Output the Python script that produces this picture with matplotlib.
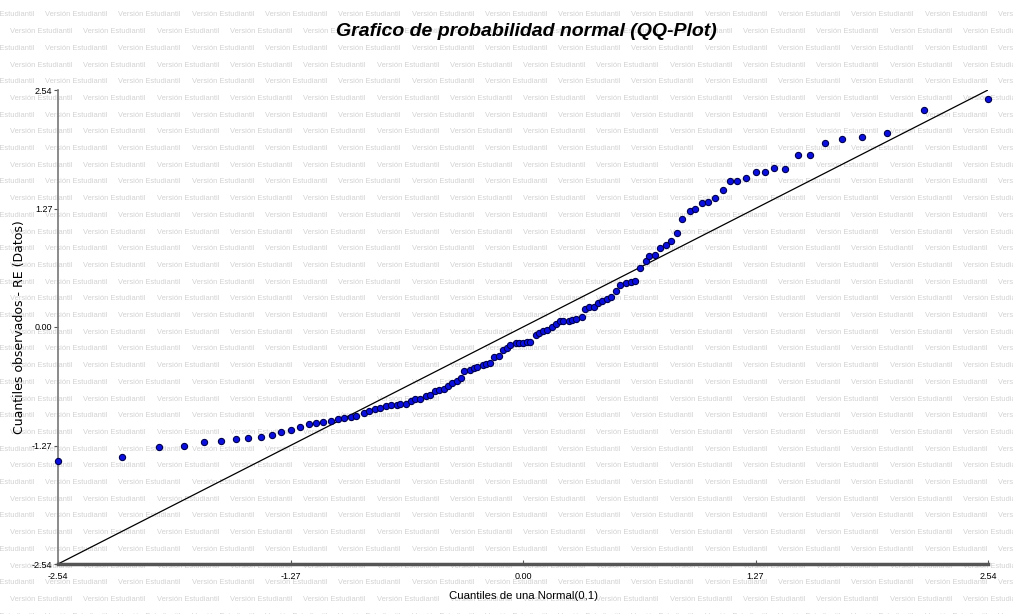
"""QQ-plot de los residuos (RE) contra cuantiles de una Normal(0,1)."""

import matplotlib
matplotlib.use("Agg")
import matplotlib.pyplot as plt

cuantiles_normal = [
    -2.54, -2.19, -1.99, -1.85, -1.74, -1.65, -1.57, -1.50, -1.43, -1.37,
    -1.32, -1.27, -1.22, -1.17, -1.13, -1.09, -1.05, -1.01, -0.98, -0.94,
    -0.91, -0.87, -0.84, -0.81, -0.78, -0.75, -0.72, -0.69, -0.67, -0.64,
    -0.61, -0.59, -0.56, -0.53, -0.51, -0.48, -0.46, -0.43, -0.41, -0.39,
    -0.36, -0.34, -0.32, -0.29, -0.27, -0.25, -0.22, -0.20, -0.18, -0.16,
    -0.13, -0.11, -0.09, -0.07, -0.04, -0.02, 0.00,
    0.02, 0.04, 0.07, 0.09, 0.11, 0.13, 0.16, 0.18, 0.20, 0.22,
    0.25, 0.27, 0.29, 0.32, 0.34, 0.36, 0.39, 0.41, 0.43, 0.46,
    0.48, 0.51, 0.53, 0.56, 0.59, 0.61, 0.64, 0.67, 0.69, 0.72,
    0.75, 0.78, 0.81, 0.84, 0.87, 0.91, 0.94, 0.98, 1.01, 1.05,
    1.09, 1.13, 1.17, 1.22, 1.27, 1.32, 1.37, 1.43, 1.50, 1.57,
    1.65, 1.74, 1.85, 1.99, 2.19, 2.54,
]

# cuantiles observados (RE ordenados)
cuantiles_obs = [
    -1.44, -1.39, -1.29, -1.28, -1.23, -1.22, -1.20, -1.19, -1.18, -1.16,
    -1.13, -1.10, -1.07, -1.04, -1.03, -1.02, -1.01, -0.99, -0.98, -0.96,
    -0.95, -0.92, -0.90, -0.88, -0.87, -0.85, -0.84, -0.835, -0.825, -0.82,
    -0.79, -0.775, -0.77, -0.74, -0.73, -0.685, -0.68, -0.66, -0.63, -0.60,
    -0.58, -0.55, -0.47, -0.46, -0.44, -0.43, -0.41, -0.40, -0.39, -0.325,
    -0.315, -0.25, -0.22, -0.19, -0.175, -0.175, -0.17,
    -0.165, -0.16, -0.09, -0.06, -0.04, -0.03, 0.00, 0.03, 0.06, 0.06,
    0.065, 0.08, 0.09, 0.105, 0.19, 0.21, 0.215, 0.26, 0.28, 0.30,
    0.32, 0.39, 0.45, 0.47, 0.48, 0.495, 0.63, 0.71, 0.76, 0.77,
    0.85, 0.88, 0.92, 1.01, 1.16, 1.24, 1.26, 1.33, 1.335, 1.38,
    1.47, 1.56, 1.57, 1.60, 1.66, 1.665, 1.70, 1.695, 1.84, 1.845,
    1.97, 2.01, 2.04, 2.08, 2.33, 2.44,
]

marcas = [-2.54, -1.27, 0.00, 1.27, 2.54]
etiquetas = ["-2.54", "-1.27", "0.00", "1.27", "2.54"]

TITULO = "Grafico de probabilidad normal (QQ-Plot)"
MARCA_AGUA = "Versión Estudiantil"
FUENTE = ["Liberation Sans", "DejaVu Sans"]


def marca_de_agua(fig, ancho=1013, alto=614):
    """Repite el texto de version estudiantil sobre toda la figura."""
    paso_x, paso_y = 73.3, 16.7
    fila = 0
    y = 15.0
    while y < alto + 10:
        x = -28.3 if fila % 2 == 0 else 10.0
        while x < ancho:
            # zorder negativo: queda detras de los ejes y los puntos
            fig.text(x / ancho, 1 - y / alto, MARCA_AGUA, fontsize=5.4,
                     family=FUENTE, color="#d2d2d2", ha="left", va="center",
                     zorder=-1)
            x += paso_x
        y += paso_y
        fila += 1


def main():
    fig = plt.figure(figsize=(10.13, 6.14), dpi=100)
    marca_de_agua(fig)

    ax = fig.add_axes([58 / 1013, 50 / 614, 930 / 1013, 474 / 614])
    ax.patch.set_visible(False)

    lim = (marcas[0], marcas[-1])
    ax.plot(lim, lim, color="black", lw=0.9, zorder=2)
    ax.scatter(cuantiles_normal, cuantiles_obs, s=20, color="#0a0fe0",
               edgecolors="#000050", linewidths=0.8, zorder=3, clip_on=False)

    ax.set_xlim(lim)
    ax.set_ylim(lim)
    ax.set_xticks(marcas)
    ax.set_xticklabels(etiquetas)
    ax.set_yticks(marcas)
    ax.set_yticklabels(etiquetas)

    for s in ("top", "right"):
        ax.spines[s].set_visible(False)
    ax.spines["left"].set_color("#777777")
    ax.spines["left"].set_linewidth(1.2)
    ax.spines["bottom"].set_color("#555555")
    ax.spines["bottom"].set_linewidth(2.5)

    ax.tick_params(axis="y", direction="out", length=3, width=0.8,
                   color="#555555", pad=1, labelsize=6.5)
    ax.tick_params(axis="x", direction="in", length=3, width=0.8,
                   color="#555555", pad=6, labelsize=6.5)
    for lab in ax.get_xticklabels() + ax.get_yticklabels():
        lab.set_family(FUENTE)

    ax.set_xlabel("Cuantiles de una Normal(0,1)", fontsize=8.2, family=FUENTE)
    ax.xaxis.set_label_coords(0.5, -27 / 474)
    ax.set_ylabel("Cuantiles observados - RE (Datos)", fontsize=9,
                  family=["DejaVu Sans"])
    ax.yaxis.set_label_coords(-32 / 930, 0.5)

    fig.text(526 / 1013, 1 - 32 / 614, TITULO, fontsize=14, weight="bold",
             style="italic", family=FUENTE, ha="center", va="center")

    fig.savefig("out.png", dpi=100)


if __name__ == "__main__":
    main()
